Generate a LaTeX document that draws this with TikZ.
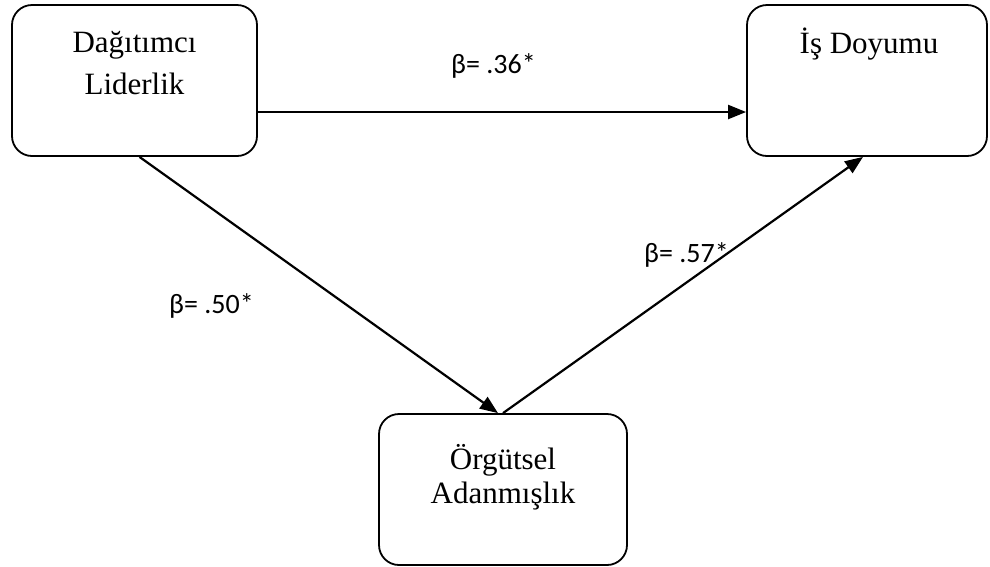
\documentclass[tikz,border=0pt]{standalone}
\usepackage{fontspec}
\setmainfont{Liberation Serif}
\newfontfamily\labfont{Carlito}
\usetikzlibrary{arrows.meta}
\begin{document}
\begin{tikzpicture}[x=1pt,y=-1pt,
  box/.style={draw,line width=1.8pt,rounded corners=20pt,inner sep=0pt},
  txt/.style={anchor=base,align=center,inner sep=0pt},
  lab/.style={anchor=base west,inner sep=0pt,font=\labfont\fontsize{28}{32}\selectfont},
  arr/.style={line width=2.2pt,-{Triangle[length=18pt,width=14pt]}}]
\useasboundingbox (0,0) rectangle (990,566);
\node[box,minimum width=245pt,minimum height=151pt] (A) at (134.5,80.5) {};
\node[box,minimum width=240pt,minimum height=151pt] (B) at (867,80.5) {};
\node[box,minimum width=248pt,minimum height=151pt] (C) at (503,489.5) {};
\node[txt,font=\fontsize{31}{42}\selectfont] (ta) at (134.5,94) {Dağıtımcı\\Liderlik};
\node[txt,font=\fontsize{31}{34}\selectfont] (tb) at (869,53) {İş Doyumu};
\node[txt,font=\fontsize{31}{34}\selectfont] (tc) at (503,503) {Örgütsel\\Adanmışlık};
\draw[arr] ([yshift=-31.5pt]A.east) -- ([yshift=-31.5pt]B.west);
\draw[arr] ([xshift=5pt]A.south) -- ([xshift=-5pt]C.north);
\draw[arr] (C.north) -- ([xshift=-4pt]B.south);
\node[lab] (l1) at (451,73) {β= .36*};
\node[lab] (l2) at (169,313) {β= .50*};
\node[lab] (l3) at (644,262) {β= .57*};
\end{tikzpicture}
\end{document}
